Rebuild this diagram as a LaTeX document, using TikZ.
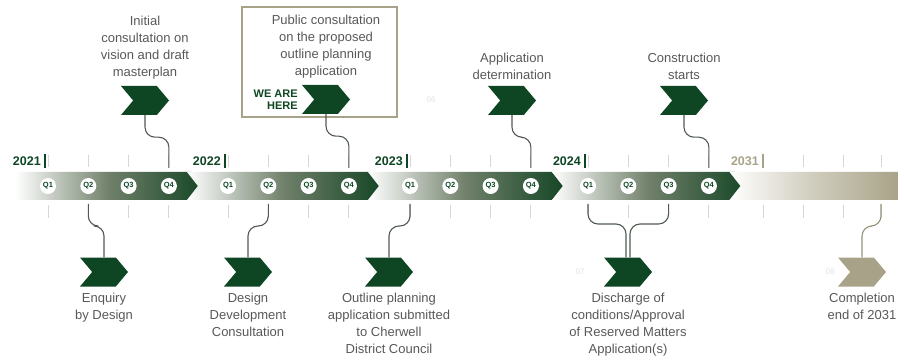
\documentclass[tikz,border=0pt]{standalone}
\usepackage{fontspec}
\setmainfont{Liberation Sans}
\usetikzlibrary{positioning}
\usetikzlibrary{shapes.symbols}
\definecolor{darkgreen}{RGB}{14,70,36}
\definecolor{bandgreen}{RGB}{22,70,38}
\definecolor{midgreen}{RGB}{112,128,106}
\definecolor{khaki}{RGB}{168,163,136}
\definecolor{khakidark}{RGB}{150,146,122}
\definecolor{textgray}{RGB}{88,88,88}
\definecolor{tickgray}{RGB}{214,214,214}
\definecolor{linkgray}{RGB}{80,90,80}
\tikzset{
  chev/.style={signal, signal from=west, signal to=east, signal pointer angle=100,
    fill=darkgreen, minimum width=48pt, minimum height=29pt, inner sep=0pt},
  bandbox/.style={signal, signal to=east, signal pointer angle=104, minimum height=28pt,
    inner sep=0pt, left color=white, right color=bandgreen, middle color=midgreen},
  qmark/.style={circle, fill=white, minimum size=16pt, inner sep=0pt,
    font=\bfseries\fontsize{7.5}{8}\selectfont, text=darkgreen},
  mtext/.style={align=center, text=textgray, font=\fontsize{13}{17}\selectfont, inner sep=1pt},
  yearlabel/.style={font=\bfseries\fontsize{12.5}{13}\selectfont, text=darkgreen, anchor=east, inner sep=0pt},
  qtick/.style={draw=tickgray, line width=1pt},
  yeartick/.style={draw=darkgreen, line width=1.2pt},
  mlink/.style={draw=linkgray, line width=1.1pt, rounded corners=10pt},
  faint/.style={text=black!12, font=\fontsize{8}{9}\selectfont},
}
\begin{document}
\begin{tikzpicture}[x=1pt, y=-1pt]
  \useasboundingbox (0,0) rectangle (904,363);

  % timeline bands
  \node[bandbox, minimum width=187pt] (b2021) at (103.5,186) {};
  \node[bandbox, signal from=west, minimum width=193pt] (b2022) at (283.5,186) {};
  \node[bandbox, signal from=west, minimum width=195pt] (b2023) at (465.5,186) {};
  \node[bandbox, signal from=west, minimum width=194pt] (b2024) at (649,186) {};
  \node[bandbox, signal from=west, signal to=nowhere, minimum width=168pt,
    left color=white, right color=khaki, middle color=khaki!55] (b2031) at (819,186) {};

  % quarters, ticks and years
  \foreach \yr/\xa in {2021/48, 2022/228, 2023/410, 2024/588} {
    \foreach \i in {1,...,4} {
      \pgfmathsetmacro\qx{\xa+40.3*(\i-1)}
      \coordinate (tt\yr-\i) at (\qx,168);
      \coordinate (tb\yr-\i) at (\qx,204);
      \draw[qtick] (\qx,155) -- (\qx,167);
      \draw[qtick] (\qx,205) -- (\qx,218);
      \node[qmark] (q\yr-\i) at (\qx,186) {Q\i};
    }
    \draw[yeartick] (\xa-3,154) -- (\xa-3,168);
    \node[yearlabel] (y\yr) at (\xa-7,161) {\yr};
  }
  \foreach \i/\qx in {1/763, 2/803, 3/843, 4/881} {
    \coordinate (tb2031-\i) at (\qx,204);
    \draw[qtick] (\qx,205) -- (\qx,218);
  }
  \foreach \qx in {803, 843, 881}
    \draw[qtick] (\qx,155) -- (\qx,167);
  \draw[yeartick, draw=khaki] (763,154) -- (763,168);
  \node[yearlabel, text=khaki] (y2031) at (759,161) {2031};

  % milestones above
  \node[draw=khaki, line width=1.6pt, minimum width=155pt, minimum height=110pt] (herebox) at (319.5,62) {};
  \node[chev] (init) at (145,100.5) {};
  \node[mtext, above=5pt of init] (init text) {Initial\\consultation on\\vision and draft\\masterplan};
  \node[chev] (here) at (326,99.5) {};
  \node[mtext, above=5pt of here] (here text) {Public consultation\\on the proposed\\outline planning\\application};
  \node[left=16pt of here, align=right, text=darkgreen, inner sep=0pt,
    font=\bfseries\fontsize{11}{12.5}\selectfont] (weare) {WE ARE\\HERE};
  \node[chev] (appdet) at (512,100.5) {};
  \node[mtext, above=5pt of appdet] (appdet text) {Application\\determination};
  \node[chev] (constr) at (684,100.5) {};
  \node[mtext, above=5pt of constr] (constr text) {Construction\\starts};

  % milestones below
  \node[chev] (enq) at (104,272) {};
  \node[mtext, below=5pt of enq] (enq text) {Enquiry\\by Design};
  \node[chev] (ddc) at (248,272) {};
  \node[mtext, below=5pt of ddc] (ddc text) {Design\\Development\\Consultation};
  \node[chev] (opa) at (389,272) {};
  \node[mtext, below=5pt of opa] (opa text) {Outline planning\\application submitted\\to Cherwell\\District Council};
  \node[chev] (dis) at (628,272) {};
  \node[mtext, below=5pt of dis] (dis text) {Discharge of\\conditions/Approval\\of Reserved Matters\\Application(s)};
  \node[chev, fill=khaki] (compl) at (862,272) {};
  \node[mtext, below=5pt of compl] (compl text) {Completion\\end of 2031};

  % faint step numbers
  \node[faint] (n06) at (431,100) {06};
  \node[faint] (n07) at (580,272) {07};
  \node[faint] (n08) at (830,272) {08};

  % connectors
  \draw[mlink] (init.south) -- ++(0,22) -| (tt2021-4);
  \draw[mlink] (here.south) -- ++(0,22) -| (tt2022-4);
  \draw[mlink] (appdet.south) -- ++(0,22) -| (tt2023-4);
  \draw[mlink] (constr.south) -- ++(0,22) -| (tt2024-4);
  \draw[mlink] (tb2021-2) -- ++(0,22) -| (enq.north);
  \draw[mlink] (tb2022-2) -- ++(0,22) -| (ddc.north);
  \draw[mlink] (tb2023-1) -- ++(0,22) -| (opa.north);
  \draw[mlink] (tb2024-1) -- ++(0,20) -| ([xshift=-2pt]dis.north);
  \draw[mlink] (tb2024-3) -- ++(0,20) -| ([xshift=2pt]dis.north);
  \draw[mlink, draw=khakidark] (tb2031-4) -- ++(0,22) -| (compl.north);
\end{tikzpicture}
\end{document}
